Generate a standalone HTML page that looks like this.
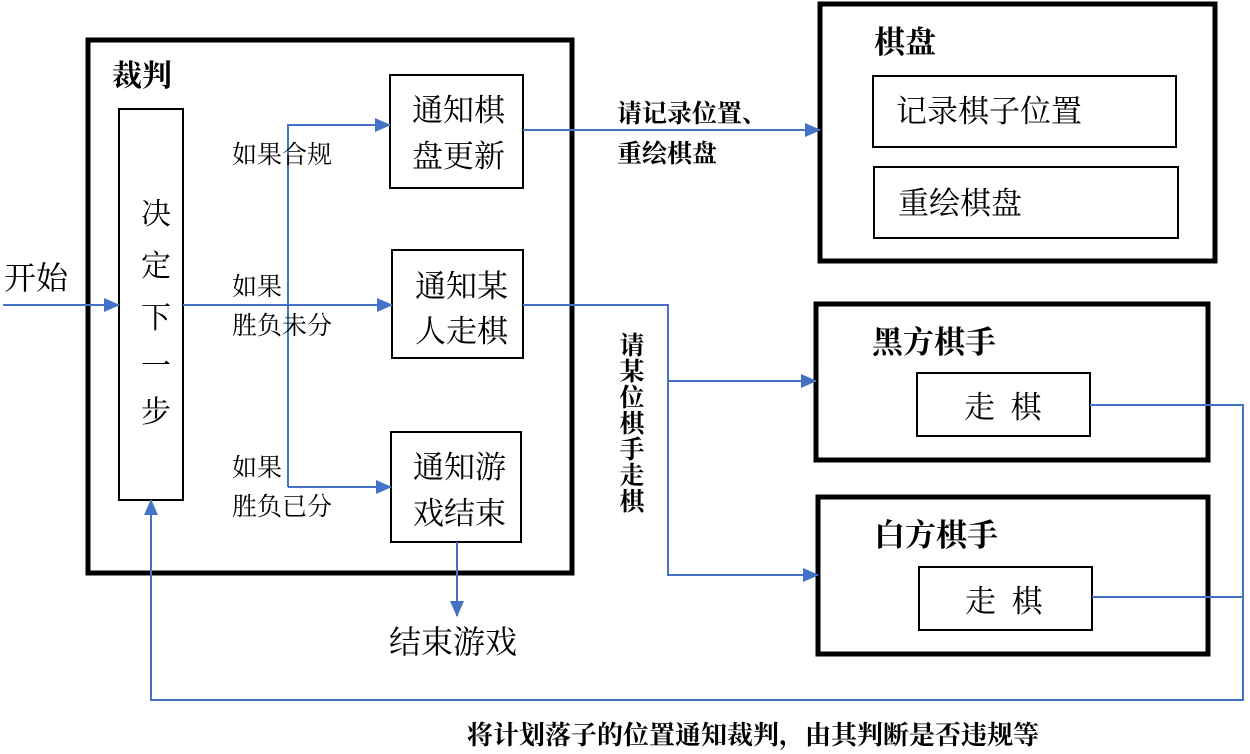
<!DOCTYPE html>
<html><head><meta charset="utf-8">
<style>
html,body{margin:0;padding:0;background:#fff;}
svg{display:block;}
text{font-family:"Liberation Serif","Noto Serif CJK SC","Noto Sans CJK SC",serif;fill:#000;}
</style></head>
<body>
<svg width="1250" height="754" viewBox="0 0 1250 754" xmlns="http://www.w3.org/2000/svg">
<defs>
<marker id="b" markerWidth="16" markerHeight="14" refX="15" refY="7" orient="auto" markerUnits="userSpaceOnUse" viewBox="0 0 16 14">
<path d="M0,0 L16,7 L0,14 z" fill="#4472C4"/>
</marker>
</defs>
<g fill="none" stroke="#000">
<rect x="88" y="40" width="484" height="533" stroke-width="5"/>
<rect x="119" y="109" width="64" height="391" stroke-width="2"/>
<rect x="390" y="75" width="133" height="113" stroke-width="2"/>
<rect x="392" y="250" width="131" height="108" stroke-width="2"/>
<rect x="391" y="432" width="130" height="110" stroke-width="2"/>
<rect x="820" y="4" width="395" height="257" stroke-width="5"/>
<rect x="873" y="76" width="303" height="71" stroke-width="2"/>
<rect x="874" y="167" width="304" height="71" stroke-width="2"/>
<rect x="816" y="304" width="392" height="156" stroke-width="5"/>
<rect x="917" y="373" width="173" height="63" stroke-width="2"/>
<rect x="818" y="497" width="390" height="157" stroke-width="5"/>
<rect x="919" y="567" width="173" height="63" stroke-width="2"/>
</g>
<g fill="none" stroke="#4472C4" stroke-width="2">
<line x1="3" y1="305" x2="119" y2="305" marker-end="url(#b)"/>
<line x1="183" y1="305" x2="392" y2="305" marker-end="url(#b)"/>
<polyline points="288,487 288,125 390,125" marker-end="url(#b)"/>
<line x1="288" y1="487" x2="391" y2="487" marker-end="url(#b)"/>
<line x1="523" y1="130" x2="820" y2="130" marker-end="url(#b)"/>
<polyline points="523,305 668,305 668,575 818,575" marker-end="url(#b)"/>
<line x1="668" y1="381" x2="816" y2="381" marker-end="url(#b)"/>
<line x1="457" y1="542" x2="457" y2="616" marker-end="url(#b)"/>
<polyline points="1090,405 1243,405 1243,700 151,700 151,500" marker-end="url(#b)"/>
<line x1="1092" y1="597" x2="1243" y2="597"/>
</g>
<text x="4" y="289" font-size="32">开始</text>
<text x="112" y="86" font-size="30" font-weight="bold">裁判</text>
<g font-size="30" text-anchor="middle">
<text x="156" y="224">决</text>
<text x="156" y="276">定</text>
<text x="156" y="328">下</text>
<text x="156" y="376">一</text>
<text x="156" y="422">步</text>
</g>
<g font-size="25">
<text x="232" y="163">如果合规</text>
<text x="232" y="295">如果</text>
<text x="232" y="334">胜负未分</text>
<text x="232" y="476">如果</text>
<text x="232" y="515">胜负已分</text>
</g>
<g font-size="31">
<text x="412" y="121">通知棋</text>
<text x="412" y="167">盘更新</text>
<text x="415" y="297">通知某</text>
<text x="415" y="342">人走棋</text>
<text x="413" y="478">通知游</text>
<text x="413" y="524">戏结束</text>
</g>
<text x="389" y="653" font-size="32">结束游戏</text>
<g font-size="25" font-weight="bold">
<text x="617" y="122">请记录位置、</text>
<text x="617" y="162">重绘棋盘</text>
</g>
<g font-size="25" font-weight="bold" text-anchor="middle">
<text x="632" y="354">请</text>
<text x="632" y="380">某</text>
<text x="632" y="406">位</text>
<text x="632" y="432">棋</text>
<text x="632" y="458">手</text>
<text x="632" y="484">走</text>
<text x="632" y="510">棋</text>
</g>
<g font-size="31">
<text x="874" y="53" font-weight="bold">棋盘</text>
<text x="896" y="122">记录棋子位置</text>
<text x="898" y="214">重绘棋盘</text>
<text x="872" y="353" font-weight="bold">黑方棋手</text>
<text x="964" y="418">走&#160;&#160;棋</text>
<text x="874" y="546" font-weight="bold">白方棋手</text>
<text x="965" y="612">走&#160;&#160;棋</text>
</g>
<text x="467" y="744" font-size="26" font-weight="bold">将计划落子的位置通知裁判，由其判断是否违规等</text>
</svg>
</body></html>
